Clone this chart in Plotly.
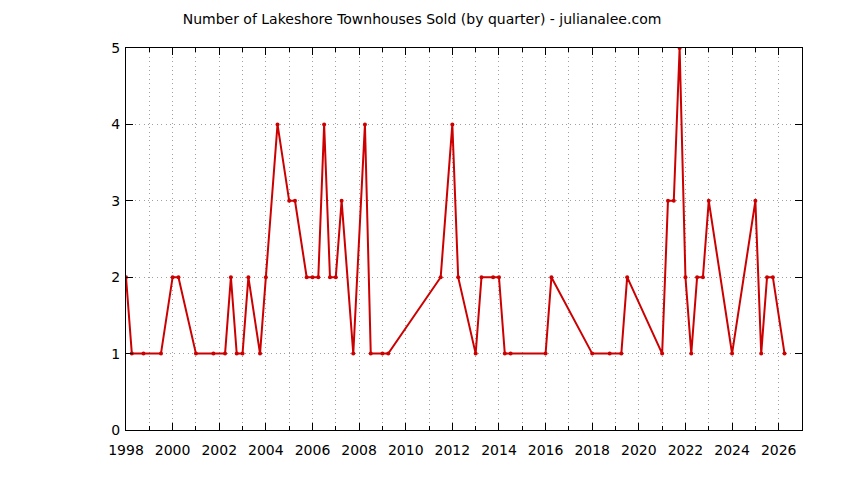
import plotly.graph_objects as go

# quarter (decimal year) and number sold
quarter = [
    1998.0, 1998.25, 1998.75, 1999.5, 2000.0, 2000.25, 2001.0, 2001.75,
    2002.25, 2002.5, 2002.75, 2003.0, 2003.25, 2003.75, 2004.0, 2004.5,
    2005.0, 2005.25, 2005.75, 2006.0, 2006.25, 2006.5, 2006.75, 2007.0,
    2007.25, 2007.75, 2008.25, 2008.5, 2009.0, 2009.25, 2011.5, 2012.0,
    2012.25, 2013.0, 2013.25, 2013.75, 2014.0, 2014.25, 2014.5, 2016.0,
    2016.25, 2018.0, 2018.75, 2019.25, 2019.5, 2021.0, 2021.25, 2021.5,
    2021.75, 2022.0, 2022.25, 2022.5, 2022.75, 2023.0, 2024.0, 2025.0,
    2025.25, 2025.5, 2025.75, 2026.25,
]
sold = [
    2, 1, 1, 1, 2, 2, 1, 1,
    1, 2, 1, 1, 2, 1, 2, 4,
    3, 3, 2, 2, 2, 4, 2, 2,
    3, 1, 4, 1, 1, 1, 2, 4,
    2, 1, 2, 2, 2, 1, 1, 1,
    2, 1, 1, 1, 2, 1, 3, 3,
    5, 2, 1, 2, 2, 3, 1, 3,
    1, 2, 2, 1,
]
title_text = "Number of Lakeshore Townhouses Sold (by quarter) - julianalee.com"

fig = go.Figure()
fig.add_trace(go.Scatter(
    x=quarter, y=sold, mode='lines+markers',
    line=dict(color='#CC0000', width=2),
    marker=dict(color='#CC0000', size=4),
    showlegend=False,
))

# gnuplot-ish sparse dotted grid
grid = dict(showgrid=True, gridcolor='#a0a0a0', gridwidth=1, griddash='1px,3.4px')
fig.update_xaxes(
    range=[1998, 2027], tick0=1998, dtick=2, **grid,
    ticks='inside', ticklen=7, tickcolor='black',
    minor=dict(dtick=1, ticks='inside', ticklen=4, tickcolor='black', **grid),
    showline=True, linecolor='black', linewidth=1, mirror='ticks',
    zeroline=False, ticklabelstandoff=7,
    tickfont=dict(size=14, color='black'),
)
fig.update_yaxes(
    range=[0, 5], dtick=1, **grid,
    ticks='inside', ticklen=7, tickcolor='black',
    showline=True, linecolor='black', linewidth=1, mirror='ticks',
    zeroline=False, ticklabelstandoff=2,
    tickfont=dict(size=14, color='black'),
)
fig.update_layout(
    width=828, height=464,
    margin=dict(l=118, r=34, t=40, b=42),
    paper_bgcolor='white', plot_bgcolor='white',
    font=dict(family='DejaVu Sans', color='black'),
    title=dict(text=title_text, x=0.5, xanchor='center', y=0.976, yanchor='middle',
               font=dict(size=14, color='black')),
)
fig.write_html("out.html")
